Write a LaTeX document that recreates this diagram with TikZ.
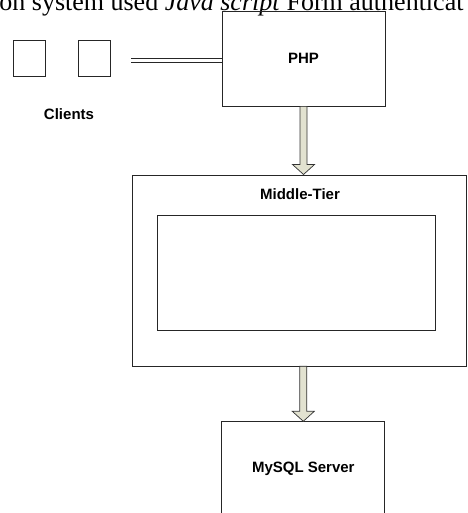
\documentclass[tikz,border=0pt]{standalone}
\usepackage{fontspec}
\setsansfont{Liberation Sans}
\newfontfamily\pagefont{Liberation Serif}
\usetikzlibrary{calc}
\definecolor{arrowfill}{RGB}{226,226,208}

\begin{document}
\begin{tikzpicture}[x=1pt, y=-1pt, node distance=65pt, line width=0.8pt,
	box node/.style={rectangle,draw=black!85,inner sep=0pt,font=\sffamily\bfseries\fontsize{15}{17}\selectfont},
	client node/.style={box node,minimum width=32.5pt,minimum height=36pt},
	tier node/.style={box node,minimum width=163pt,minimum height=95pt},
	tier arrow/.style={draw=black!80,fill=arrowfill,line width=0.7pt}]

	\useasboundingbox (0,0) rectangle (467,513);
	\clip (0,0) rectangle (467,513);

	\node[anchor=base west,inner sep=0pt,font=\pagefont\fontsize{26}{28}\selectfont] (pagetext) at (-1,11) {on system used \textit{Java script} Form authenticat};

	\node[client node] (client1) at (29.5,58) {};
	\node[client node] (client2) [right of=client1] {};
	\node[font=\sffamily\bfseries\fontsize{15}{17}\selectfont] (clients) at (69,114) {Clients};

	\node[tier node] (php) at (303.5,58.5) {PHP};
	\node[box node,minimum width=334pt,minimum height=191pt] (mid) at (299,270.4) {};
	\node[font=\sffamily\bfseries\fontsize{15}{17}\selectfont] (midlabel) at (300,194) {Middle-Tier};
	\node[box node,minimum width=278pt,minimum height=115pt] (inner) at (296.7,273.3) {};
	\node[tier node] (sql) at (303.3,469.2) {MySQL Server};

	\coordinate (barstart) at (131,60.5);
	\draw[draw=black!85,double=white,double distance=3pt,line width=0.7pt] (barstart) -- (barstart -| php.west);

	\foreach \from/\to/\via in {php/mid/php, mid/sql/sql}
	\draw[tier arrow] ($(\from.south -| \via)+(-3.5,0)$) -- ($(\to.north -| \via)+(-3.5,-10)$) -- ++(-7.5,0)
		-- (\to.north -| \via) -- ($(\to.north -| \via)+(11,-10)$) -- ++(-7.5,0)
		-- ($(\from.south -| \via)+(3.5,0)$) -- cycle;
\end{tikzpicture}
\end{document}
